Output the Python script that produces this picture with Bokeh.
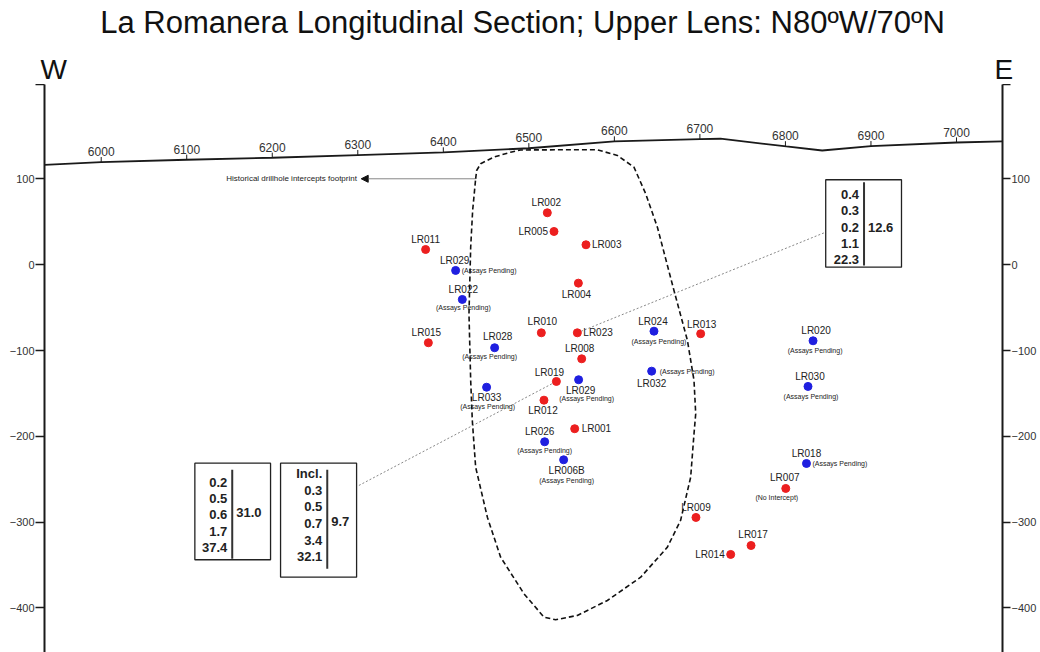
import numpy as np
from bokeh.plotting import figure
from bokeh.layouts import column
from bokeh.models import Range1d, LinearAxis, FixedTicker, Arrow, NormalHead, ColumnDataSource
from bokeh.core.properties import value
from bokeh.embed import file_html
from bokeh.resources import INLINE

FONT = "Liberation Sans"
TITLE = "La Romanera Longitudinal Section; Upper Lens: N80\u00baW/70\u00baN"

# ---------------- data ----------------
# surface topography along the section
surface_x = [5933.7, 6000, 6100, 6200, 6300, 6400, 6500, 6600, 6700, 6724, 6801, 6843, 6900, 7000, 7053.8]
surface_elev = [116.5, 119.6, 122.4, 124.7, 127.8, 130.9, 135.8, 143.7, 146.4, 146.9, 137.9, 133.2, 138.2, 142.5, 143.7]

section_ticks = [6000, 6100, 6200, 6300, 6400, 6500, 6600, 6700, 6800, 6900, 7000]
section_labels = [str(t) for t in section_ticks]
elev_ticks = [100, 0, -100, -200, -300, -400]

# drillhole pierce points
hole_id = ["LR002", "LR005", "LR003", "LR011", "LR029", "LR022", "LR004", "LR010", "LR023", "LR015",
           "LR028", "LR024", "LR013", "LR008", "LR032", "LR019", "LR029", "LR033", "LR012", "LR001",
           "LR026", "LR006B", "LR009", "LR020", "LR030", "LR018", "LR007", "LR017", "LR014"]
hole_x = [6521.6, 6529.4, 6566.8, 6379.3, 6414.4, 6422.2, 6557.9, 6514.6, 6556.7, 6382.5,
          6460.0, 6646.3, 6700.9, 6561.8, 6643.6, 6532.2, 6558.2, 6450.6, 6517.7, 6553.6,
          6518.5, 6540.7, 6695.4, 6832.3, 6826.4, 6824.6, 6800.4, 6759.8, 6736.0]
hole_elev = [60.6, 38.8, 23.3, 17.8, -6.6, -40.4, -21.4, -79.3, -79.3, -90.9,
             -96.7, -77.4, -80.4, -109.6, -124.0, -136.0, -134.0, -142.7, -157.8, -191.1,
             -206.3, -227.3, -294.5, -88.6, -141.8, -231.6, -260.7, -327.2, -337.6]
hole_status = ["A", "A", "A", "A", "P", "P", "A", "A", "A", "A",
               "P", "P", "A", "A", "P", "A", "P", "P", "A", "A",
               "P", "P", "A", "P", "P", "P", "N", "A", "A"]
status_note = {"A": "", "P": "(Assays Pending)", "N": "(No Intercept)"}

# historical intercepts footprint outline
footprint_x = [6437.8, 6439.0, 6443.6, 6458.8, 6478.7, 6490.3, 6537.1, 6580.1, 6603.5, 6622.9,
               6636.6, 6650.3, 6669.7, 6685.4, 6693.1, 6695.1, 6693.1, 6689.2, 6677.4, 6662.0,
               6630.8, 6591.8, 6556.7, 6531.3, 6517.7, 6494.3, 6467.0, 6451.5, 6437.8, 6433.9,
               6432.0, 6430.0, 6432.0, 6434.3, 6437.8]
footprint_elev = [100.2, 109.9, 117.7, 125.4, 131.2, 133.8, 134.0, 134.0, 127.4, 113.8,
                  82.8, 43.8, -30.0, -88.2, -134.8, -173.7, -197.0, -247.6, -298.0, -329.1,
                  -364.1, -391.3, -408.7, -413.8, -410.7, -383.4, -340.8, -294.2, -235.9, -181.5,
                  -134.8, -57.1, 20.5, 63.3, 100.2]

# intercept tables
box_a_rows = ["0.2", "0.5", "0.6", "1.7", "37.4"]
box_a_total = "31.0"
box_b_rows = ["Incl.", "0.3", "0.5", "0.7", "3.4", "32.1"]
box_b_total = "9.7"
box_c_rows = ["0.4", "0.3", "0.2", "1.1", "22.3"]
box_c_total = "12.6"

# ---------------- layout (positions of labels / annotations) ----------------
name_layout = [
    ("center", -1, -10), ("right", -6, 0), ("left", 6, 0), ("center", 0, -10), ("center", -1, -10),
    ("center", 1, -10), ("center", -2, 11), ("center", 1, -11), ("left", 6, 0), ("center", -2, -10),
    ("center", 3, -11), ("center", -1, -10), ("center", 1, -9), ("center", -2, -10), ("center", 0, 12),
    ("center", -7, -9), ("center", 2, 11), ("center", 0, 10), ("center", -1, 10), ("left", 7, 0),
    ("center", -5, -10), ("center", 3, 11), ("center", 0, -10), ("center", 3, -10), ("center", 2, -10),
    ("center", 0, -10), ("center", -1, -11), ("center", 2, -11), ("right", -6, 0),
]
note_layout = [
    None, None, None, None, ("left", 6, 0),
    ("center", 1, 8), None, None, None, None,
    ("center", -5, 9), ("center", 5, 10), None, None, ("left", 8, 0),
    None, ("center", 8, 19), ("center", 1, 19), None, None,
    ("center", 0, 9), ("center", 3, 21), None, ("center", 2, 10), ("center", 3, 10),
    ("left", 6, 0), ("center", -9, 9), None, None,
]

W_PX, HEAD_H, TOTAL_H = 1040, 84, 652

# ---------------- header (title, W / E) ----------------
head = figure(width=W_PX, height=HEAD_H, x_range=Range1d(0, W_PX), y_range=Range1d(HEAD_H, 0),
              x_axis_location=None, y_axis_location=None, toolbar_location=None,
              output_backend="svg", min_border=0)
head.outline_line_color = None
head.xgrid.visible = False
head.ygrid.visible = False
head.text(x=[522], y=[22], text=[TITLE], text_align="center", text_baseline="middle",
          text_font=value(FONT), text_font_size="31px", text_color="#111111")
head.text(x=[40, 994], y=[69, 69], text=["W", "E"], text_align="left", text_baseline="middle",
          text_font=value(FONT), text_font_size="28px", text_color="#111111")

# ---------------- main section ----------------
X0, X1 = 5933.7, 7053.8
Y0, Y1 = -451.9, 210.1

p = figure(width=W_PX, height=TOTAL_H - HEAD_H, x_range=Range1d(X0, X1), y_range=Range1d(Y0, Y1),
           x_axis_location=None, y_axis_location=None, toolbar_location=None,
           output_backend="svg", min_border_left=44, min_border_right=38,
           min_border_top=0, min_border_bottom=0)
p.outline_line_color = None
p.xgrid.visible = False
p.ygrid.visible = False
p.background_fill_color = "white"
p.border_fill_color = "white"

for fig in (head, p):
    try:
        fig.frame_align = False
    except Exception:
        pass

ticker = FixedTicker(ticks=elev_ticks + [210])
for side in ("left", "right"):
    ax = LinearAxis(ticker=ticker)
    ax.major_label_overrides = {210: ""}
    ax.axis_line_width = 2
    ax.axis_line_color = "#1a1a1a"
    ax.major_tick_line_color = "#1a1a1a"
    ax.major_tick_line_width = 1.5
    ax.major_tick_in = 0
    ax.major_tick_out = 9 if side == "left" else 8
    ax.minor_tick_line_color = None
    ax.major_label_standoff = 1
    ax.major_label_text_font = FONT
    ax.major_label_text_font_size = "11px"
    ax.major_label_text_color = "#333333"
    p.add_layout(ax, side)

# surface line with section ticks
p.line(surface_x, surface_elev, line_color="#1a1a1a", line_width=1.8)
tick_base = np.interp(section_ticks, surface_x, surface_elev)
p.segment(x0=section_ticks, y0=tick_base, x1=section_ticks, y1=tick_base + 6,
          line_color="#1a1a1a", line_width=1)
p.text(x=section_ticks, y=tick_base, text=section_labels, y_offset=-6,
       text_align="center", text_baseline="bottom", text_font=value(FONT),
       text_font_size="12px", text_color="#333333")

# footprint outline
p.line(footprint_x, footprint_elev, line_color="#111111", line_width=1.6, line_dash="5 3")

# leader lines from tables
p.line([6301.3, hole_x[15]], [-257.2, hole_elev[15]], line_color="#888888", line_width=1, line_dash="2 2")
p.line([hole_x[8], 6847.1], [hole_elev[8], 38.0], line_color="#888888", line_width=1, line_dash="2 2")

# historical label + arrow
p.add_layout(Arrow(end=NormalHead(size=7, fill_color="#111111", line_color="#111111"),
                   x_start=6437.8, y_start=100.2, x_end=6304.0, y_end=100.2,
                   line_color="#666666", line_width=0.8))
p.text(x=[6299.0], y=[100.2], text=["Historical drillhole intercepts footprint"],
       text_align="right", text_baseline="middle", text_font=value(FONT),
       text_font_size="8px", text_color="#222222")

# tables
def table(xl, xr, xdiv, ytop, ybot, dtop, dbot, row0, spacing, rows, total, ytotal):
    p.quad(left=[xl], right=[xr], top=[ytop], bottom=[ybot], fill_color="white",
           line_color="#222222", line_width=1.3)
    p.segment(x0=[xdiv], y0=[dtop], x1=[xdiv], y1=[dbot], line_color="#333333", line_width=2)
    n = len(rows)
    p.text(x=[xdiv] * n, y=[row0] * n, text=rows, x_offset=-5,
           y_offset=[k * spacing for k in range(n)], text_align="right", text_baseline="middle",
           text_font=value(FONT), text_font_size="13px", text_font_style="bold", text_color="#222222")
    p.text(x=[xdiv], y=[ytotal], text=[total], x_offset=4, text_align="left", text_baseline="middle",
           text_font=value(FONT), text_font_size="13px", text_font_style="bold", text_color="#222222")

table(6109.5, 6198.0, 6153.2, -231.2, -343.8, -238.9, -342.7, -253.4, 16.4, box_a_rows, box_a_total, -288.3)
table(6209.7, 6298.6, 6264.3, -231.2, -364.1, -238.9, -354.3, -243.6, 16.6, box_b_rows, box_b_total, -299.2)
table(6847.1, 6935.7, 6891.9, 99.1, -2.8, 96.3, -0.8, 81.9, 16.3, box_c_rows, box_c_total, 43.8)

# drillhole points
colors = ["#1f1fe0" if s == "P" else "#ec1f1f" for s in hole_status]
p.scatter(hole_x, hole_elev, size=8, marker="circle", fill_color=colors, line_color=colors)

def add_labels(texts, layouts, size):
    for align in ("center", "left", "right"):
        idx = [i for i, l in enumerate(layouts) if l is not None and l[0] == align and texts[i]]
        if not idx:
            continue
        src = ColumnDataSource(dict(
            x=[hole_x[i] for i in idx], y=[hole_elev[i] for i in idx],
            t=[texts[i] for i in idx], dx=[layouts[i][1] for i in idx], dy=[layouts[i][2] for i in idx]))
        p.text(x="x", y="y", text="t", x_offset="dx", y_offset="dy", source=src,
               text_align=align, text_baseline="middle", text_font=value(FONT),
               text_font_size=size, text_color="#222222")

add_labels(hole_id, name_layout, "10px")
add_labels([status_note[s] for s in hole_status], note_layout, "7px")

layout = column(head, p, spacing=0)
open("out.html", "w").write(file_html(layout, INLINE))
